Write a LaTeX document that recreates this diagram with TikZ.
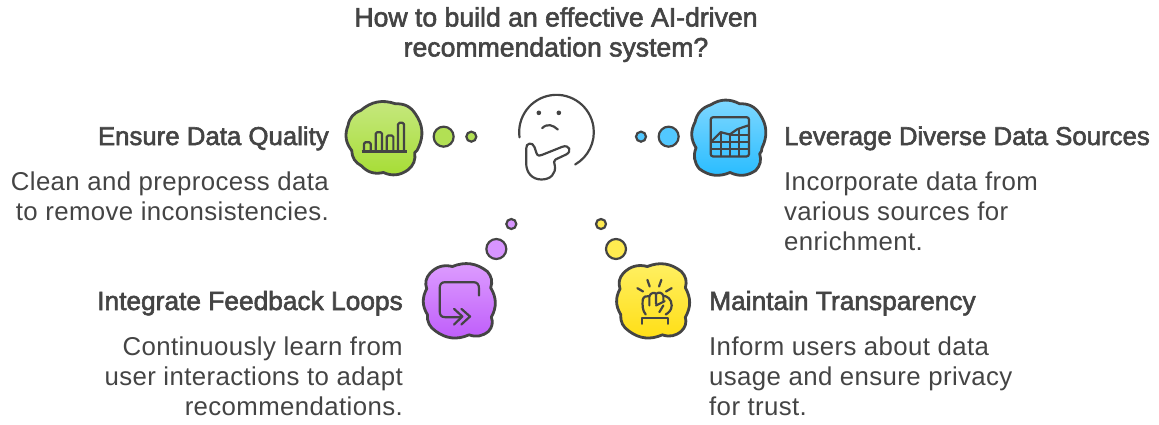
\documentclass[tikz,border=0pt]{standalone}
\usepackage{fontspec}
\setmainfont[LetterSpace=1.5]{Liberation Sans}
\newfontfamily\medfont[FakeBold=2.2]{Liberation Sans}
\definecolor{ink}{HTML}{444444}
\tikzset{
  x=1pt,y=-1pt,
  ttl/.style={font=\medfont\fontsize{26.6}{30}\selectfont,text=ink,inner sep=0pt},
  head/.style={font=\medfont\fontsize{25.8}{30}\selectfont,text=ink,inner sep=0pt},
  headw/.style={font=\medfont\fontsize{26.3}{30}\selectfont,text=ink,inner sep=0pt},
  body/.style={font=\fontsize{25.8}{30}\selectfont,text=ink,inner sep=0pt},
  cloud/.style={draw=ink,line width=2.8pt,line join=round},
  dot/.style={draw=ink,line width=2.2pt},
  icon/.style={draw=ink,line width=2.2pt,line cap=round,line join=round},
  zb/.style={bend left=30},
}
\begin{document}
\begin{tikzpicture}
\useasboundingbox (0,0) rectangle (1159,424);
% title
\node[ttl,align=center,anchor=north] (title) at (556,7) {How to build an effective AI-driven\\recommendation system?};
% face
\begin{scope}[shift={(505.5,85.5)},x=0.3333pt,y=-0.3333pt]
\draw[icon] (153,140) ++(172:112) arc[start angle=172,end angle=420,radius=112];
\fill[ink] (100,82) circle (7) (160,82) circle (7);
\draw[icon] (110,128) .. controls (125,113) and (142,118) .. (157,132);
\draw[icon] (62,190) .. controls (60,172) and (82,168) .. (87,185) -- (93,203) .. controls (96,212) and (104,212) .. (110,208) -- (170,184) .. controls (192,176) and (200,198) .. (182,207) -- (150,222) .. controls (143,226) and (146,232) .. (148,240) .. controls (152,265) and (135,282) .. (108,282) .. controls (80,282) and (63,262) .. (62,235) -- cycle;
\end{scope}
% green
\begin{scope}[shift={(340.7,90.5)},x=0.3333pt,y=-0.3333pt]
\shade[cloud,top color={rgb,255:red,198;green,232;blue,128},bottom color={rgb,255:red,166;green,221;blue,52}]
 (60,60) to[zb] (165,40) to[zb] (224,70) to[zb] (233,172) to[bend left=20] (222,186) to[zb] (202,238) to[zb] (128,246) to[zb] (62,226) to[zb] (33,180) to[zb] (22,105) to[zb] (60,60) -- cycle;
\draw[icon,line cap=butt] (63,183) -- (198,183);
\draw[icon,rounded corners=1.5pt] (70,183) -- (70,155) -- (90,155) -- (90,183) (105,183) -- (105,125) -- (124,125) -- (124,183) (138,183) -- (138,135) -- (158,135) -- (158,183) (172,183) -- (172,97) -- (190,97) -- (190,183);
\end{scope}
\begin{scope}[shift={(340,90)},x=0.3333pt,y=-0.3333pt]
\filldraw[dot,fill={rgb,255:red,178;green,224;blue,84}] (311,140) coordinate (gb) circle (30);
\filldraw[dot,fill={rgb,255:red,178;green,224;blue,84}] (394,140) coordinate (gs) circle (15);
\end{scope}
% blue
\begin{scope}[shift={(630.7,90.5)},x=0.3333pt,y=-0.3333pt]
\shade[cloud,top color={rgb,255:red,128;green,216;blue,255},bottom color={rgb,255:red,40;green,188;blue,255}]
 (240,43) to[zb] (327,40) to[zb] (387,70) to[zb] (394,172) to[bend left=20] (387,190) to[zb] (375,240) to[zb] (298,246) to[zb] (206,235) to[bend left=30] (196,172) to[zb] (193,95) to[zb] (240,43) -- cycle;
\draw[icon,rounded corners=2.5pt] (240,80) rectangle (355,198);
\draw[icon,line cap=butt] (243,152) -- (270,125) -- (297,132) -- (320,116) -- (352,105);
\draw[icon,line width=2pt,line cap=butt] (240,153) -- (355,153) (240,176) -- (355,176) (270,125) -- (270,198) (297,132) -- (297,198) (325,114) -- (325,198) (297,132) -- (355,132);
\end{scope}
\begin{scope}[shift={(630,90)},x=0.3333pt,y=-0.3333pt]
\filldraw[dot,fill={rgb,255:red,82;green,200;blue,255}] (116,140) coordinate (bb) circle (30);
\filldraw[dot,fill={rgb,255:red,82;green,200;blue,255}] (33,140) coordinate (bs) circle (15);
\end{scope}
% purple
\begin{scope}[shift={(410.7,210.5)},x=0.3333pt,y=-0.3333pt]
\shade[cloud,top color={rgb,255:red,222;green,158;blue,255},bottom color={rgb,255:red,190;green,92;blue,250}]
 (58,188) to[zb] (125,168) to[zb] (230,183) to[bend left=30] (240,232) to[zb] (242,320) to[bend left=30] (234,362) to[zb] (175,373) to[zb] (75,362) to[zb] (50,312) to[zb] (48,235) to[bend left=30] (58,188) -- cycle;
\draw[icon] (205,255) -- (205,235) .. controls (205,222) and (200,215) .. (188,215) -- (103,215) .. controls (92,215) and (87,222) .. (87,233) -- (87,302) .. controls (87,314) and (92,320) .. (103,320) -- (150,320);
\draw[icon] (130,295) -- (155,318) -- (130,342) (152,295) -- (178,318) -- (152,342);
\end{scope}
\begin{scope}[shift={(410,210)},x=0.3333pt,y=-0.3333pt]
\filldraw[dot,fill={rgb,255:red,215;green,148;blue,255}] (259,117) coordinate (pb) circle (30);
\filldraw[dot,fill={rgb,255:red,215;green,148;blue,255}] (304,42) coordinate (ps) circle (15);
\end{scope}
% yellow
\begin{scope}[shift={(590.7,210.5)},x=0.3333pt,y=-0.3333pt]
\shade[cloud,top color={rgb,255:red,255;green,240;blue,100},bottom color={rgb,255:red,255;green,222;blue,20}]
 (98,188) to[zb] (170,168) to[zb] (272,183) to[bend left=30] (284,232) to[zb] (284,320) to[bend left=30] (272,362) to[zb] (215,373) to[zb] (115,362) to[zb] (90,312) to[zb] (88,235) to[bend left=30] (98,188) -- cycle;
\draw[icon] (140,233) -- (157,243) (170,208) -- (177,228) (212,208) -- (205,228) (243,233) -- (226,243);
\draw[icon] (165,312) .. controls (155,300) and (155,285) .. (156,268) .. controls (158,258) and (168,255) .. (176,257) .. controls (180,246) and (192,245) .. (196,250) .. controls (205,243) and (215,247) .. (218,256) .. controls (228,256) and (243,265) .. (243,285) .. controls (243,300) and (232,308) .. (225,312);
\draw[icon] (176,257) -- (176,285) (196,250) -- (196,280) (218,256) -- (218,270) (196,285) -- (222,272) (218,285) -- (206,305);
\draw[icon] (155,340) -- (155,322) -- (232,322) -- (232,340);
\end{scope}
\begin{scope}[shift={(590,210)},x=0.3333pt,y=-0.3333pt]
\filldraw[dot,fill={rgb,255:red,255;green,235;blue,80}] (78,117) coordinate (yb) circle (30);
\filldraw[dot,fill={rgb,255:red,255;green,235;blue,80}] (33,42) coordinate (ys) circle (15);
\end{scope}
% texts
\node[head,anchor=base east] (h1) at (329,145) {Ensure Data Quality};
\node[body,align=right,anchor=north east] (b1) at (329,172) {Clean and preprocess data\\to remove inconsistencies.};
\node[head,anchor=base west] (h2) at (784,145) {Leverage Diverse Data Sources};
\node[body,align=left,anchor=north west] (b2) at (784,172) {Incorporate data from\\various sources for\\enrichment.};
\node[headw,anchor=base east] (h3) at (403,310) {Integrate Feedback Loops};
\node[body,align=right,anchor=north east] (b3) at (403,337) {Continuously learn from\\user interactions to adapt\\recommendations.};
\node[headw,anchor=base west] (h4) at (709,310) {Maintain Transparency};
\node[body,align=left,anchor=north west] (b4) at (709,337) {Inform users about data\\usage and ensure privacy\\for trust.};
\end{tikzpicture}
\end{document}
